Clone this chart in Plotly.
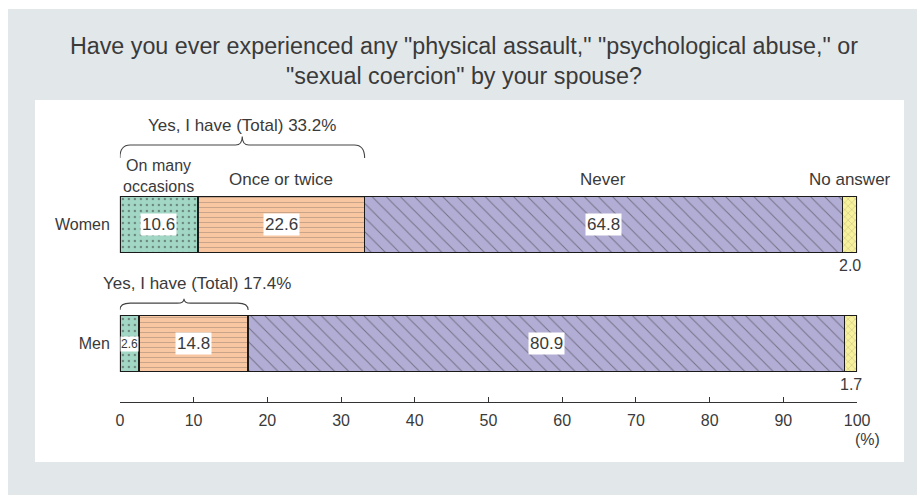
import plotly.graph_objects as go

# ---- data ----
groups = ["Women", "Men"]
segments = ["On many occasions", "Once or twice", "Never", "No answer"]
women = [10.6, 22.6, 64.8, 2.0]
men = [2.6, 14.8, 80.9, 1.7]
yes_total = [33.2, 17.4]
x_ticks = [0, 10, 20, 30, 40, 50, 60, 70, 80, 90, 100]
title_text = 'Have you ever experienced any "physical assault," "psychological abuse," or<br>"sexual coercion" by your spouse?'

# ---- styles ----
W, H = 933, 495
FONT = "Liberation Sans, Arial, sans-serif"
TXT = "#3a3a3a"
fills = ["#a1d7c4", "#f8c6a0", "#b2add5", "#f8f19c"]
patterns = [
    dict(shape=".", fgcolor="#333333", bgcolor=fills[0], size=6, solidity=0.12),
    dict(shape="-", fgcolor="#555555", bgcolor=fills[1], size=5, solidity=0.12),
    dict(shape="\\", fgcolor="#333333", bgcolor=fills[2], size=10, solidity=0.1),
    dict(shape="x", fgcolor="#444444", bgcolor=fills[3], size=5, solidity=0.12),
]
values = {"Women": women, "Men": men}
ypos = {g: len(groups) - 1 - k for k, g in enumerate(groups)}
BAR_W = 0.47


def px_x(p):
    return (p - 4) / 917


def px_y(p):
    return 1 - p / H


fig = go.Figure()
for i, seg in enumerate(segments):
    fig.add_trace(go.Bar(
        x=[values[g][i] for g in groups],
        y=[ypos[g] for g in groups],
        orientation="h",
        name=seg,
        width=BAR_W,
        marker=dict(color=fills[i], pattern=patterns[i],
                    line=dict(color="#1a1a1a", width=1.5)),
        hoverinfo="skip",
    ))

ann = []
for g in groups:
    cum = 0
    for i, v in enumerate(values[g]):
        mid = cum + v / 2
        cum += v
        if i < 3:
            small = v < 5
            ann.append(dict(x=mid, y=ypos[g], text=f"{v:.1f}", showarrow=False,
                            font=dict(size=12 if small else 17, color=TXT, family=FONT),
                            bgcolor="white", borderpad=0 if small else 1))
        else:
            ann.append(dict(x=mid, y=ypos[g] - 0.34, text=f"{v:.1f}", showarrow=False,
                            font=dict(size=16, color=TXT, family=FONT)))

mids = []
c = 0
for v in women:
    mids.append(c + v / 2)
    c += v
first_words = segments[0].split(" ")
ann.append(dict(x=mids[0], y=1.405, text=" ".join(first_words[:2]) + "<br>" + first_words[2],
                showarrow=False, font=dict(size=16, color=TXT, family=FONT)))
for i in (1, 2, 3):
    ann.append(dict(x=mids[i], y=1.38, text=segments[i], showarrow=False,
                    font=dict(size=17, color=TXT, family=FONT)))

brace_cfg = {"Women": (1.668, 1.559, 1.74, 1.836), "Men": (0.340, 0.282, 0.378, 0.508)}
shapes = []
for k, g in enumerate(groups):
    yl, ye, yt, ylab = brace_cfg[g]
    x0, x1 = 0.0, yes_total[k]
    xm = (x0 + x1) / 2
    d = 1.4
    dt = 0.9
    path = (f"M {x0},{ye} Q {x0},{yl} {x0+d},{yl} L {xm-dt},{yl} "
            f"Q {xm},{yl} {xm},{yt} Q {xm},{yl} {xm+dt},{yl} "
            f"L {x1-d},{yl} Q {x1},{yl} {x1},{ye}")
    shapes.append(dict(type="path", path=path, xref="x", yref="y",
                       line=dict(color="#444444", width=1.1)))
    ann.append(dict(x=xm + (0.0 if g == "Women" else 1.8), y=ylab,
                    text=f"Yes, I have (Total) {yes_total[k]:.1f}%", showarrow=False,
                    font=dict(size=17, color=TXT, family=FONT)))

ann.append(dict(x=100, xref="x", y=px_y(439), yref="paper", yanchor="middle",
                text="(%)", showarrow=False,
                xshift=10, font=dict(size=16, color=TXT, family=FONT)))

shapes.insert(0, dict(type="rect", xref="paper", yref="paper", x0=px_x(8), x1=1.1, y0=-0.1, y1=px_y(9),
                      fillcolor="#e2e7ea", line=dict(width=0), layer="below"))
shapes.insert(1, dict(type="rect", xref="paper", yref="paper", x0=px_x(35), x1=px_x(905),
                      y0=px_y(462), y1=px_y(100),
                      fillcolor="white", line=dict(width=0), layer="below"))

fig.update_layout(
    width=W, height=H,
    margin=dict(l=0, r=0, t=0, b=0),
    paper_bgcolor="white", plot_bgcolor="rgba(0,0,0,0)",
    barmode="stack", showlegend=False,
    font=dict(family=FONT, color=TXT),
    title=dict(text=title_text, x=px_x(460), xanchor="center", y=px_y(54), yanchor="middle",
               font=dict(size=23.3, color=TXT, family=FONT)),
    xaxis=dict(domain=[px_x(120), px_x(858)], range=[0, 100], tickvals=x_ticks,
               showgrid=False, zeroline=False, showline=True, linecolor="#333333", linewidth=1,
               ticks="inside", ticklen=5, tickcolor="#333333",
               tickfont=dict(size=16, color=TXT, family=FONT), ticklabelstandoff=4),
    yaxis=dict(domain=[px_y(402), px_y(100)], range=[-0.49, 2.046],
               tickvals=[ypos[g] for g in groups], ticktext=groups,
               showgrid=False, zeroline=False, showline=False, ticks="",
               tickfont=dict(size=16, color=TXT, family=FONT), ticklabelstandoff=9),
    annotations=ann, shapes=shapes,
)

fig.write_html("out.html")
